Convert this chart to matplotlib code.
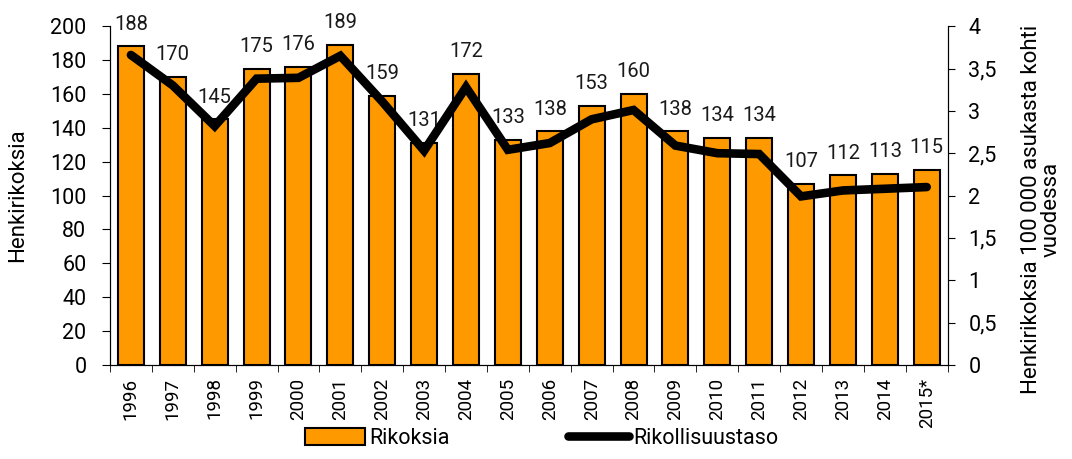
import matplotlib
matplotlib.use("Agg")
import matplotlib.pyplot as plt
import numpy as np

plt.rcParams["font.family"] = ["Roboto", "DejaVu Sans"]

years = ["1996", "1997", "1998", "1999", "2000", "2001", "2002", "2003", "2004", "2005",
         "2006", "2007", "2008", "2009", "2010", "2011", "2012", "2013", "2014", "2015*"]
rikoksia = [188, 170, 145, 175, 176, 189, 159, 131, 172, 133,
            138, 153, 160, 138, 134, 134, 107, 112, 113, 115]
taso = [3.66, 3.30, 2.82, 3.38, 3.39, 3.65, 3.11, 2.53, 3.28, 2.54,
        2.62, 2.90, 3.01, 2.59, 2.50, 2.49, 1.99, 2.06, 2.08, 2.10]

x = np.arange(len(years))

fig = plt.figure(figsize=(10.72, 4.59), dpi=100)
ax = fig.add_axes([0.1026, 0.205, 0.7814, 0.738])
ax2 = ax.twinx()

bars = ax.bar(x, rikoksia, width=0.62, color="#FF9900", edgecolor="black",
              linewidth=1.5, label="Rikoksia", zorder=2)
for xi, v in zip(x, rikoksia):
    ax.annotate(str(v), (xi, v), xytext=(0, 12), textcoords="offset points",
                ha="center", va="baseline", fontsize=14.5, color="#1a1a1a",
                clip_on=False)

line, = ax2.plot(x, taso, color="black", linewidth=6.2, solid_capstyle="round",
                 solid_joinstyle="miter", label="Rikollisuustaso", zorder=3)

ax.set_xlim(-0.5, len(years) - 0.5)
ax.set_ylim(0, 200)
ax.set_yticks(np.arange(0, 201, 20))
ax2.set_ylim(0, 4)
ax2.set_yticks(np.arange(0, 4.01, 0.5))
ax2.set_yticklabels(["0", "0,5", "1", "1,5", "2", "2,5", "3", "3,5", "4"])

ax.set_xticks(x)
ax.set_xticklabels(years, rotation=90, fontsize=13.5)
ax.tick_params(axis="x", length=0, pad=9)
ax.set_xticks(np.arange(-0.5, len(years), 1), minor=True)
ax.tick_params(axis="x", which="minor", length=5, direction="out")
ax.tick_params(axis="y", labelsize=15.5, length=6, direction="out", pad=11)
ax2.tick_params(axis="y", labelsize=15.5, length=5, direction="out", pad=10)

ax.set_ylabel("Henkirikoksia", fontsize=16)
ax.yaxis.set_label_coords(-0.098, 0.5)
ax2.set_ylabel("Henkirikoksia 100 000 asukasta kohti\nvuodessa", fontsize=16,
               linespacing=0.95)
ax2.yaxis.set_label_coords(1.087, 0.46)

for a in (ax, ax2):
    a.spines["top"].set_visible(False)
ax2.set_zorder(ax.get_zorder() + 1)
ax2.patch.set_visible(False)

fig.legend([bars, line], ["Rikoksia", "Rikollisuustaso"], loc="lower center",
           bbox_to_anchor=(0.505, -0.02), ncol=2, frameon=False, fontsize=15.5,
           handlelength=2.8, handleheight=0.8, handletextpad=0.2, columnspacing=5.5)

fig.savefig("out.png", dpi=100)
